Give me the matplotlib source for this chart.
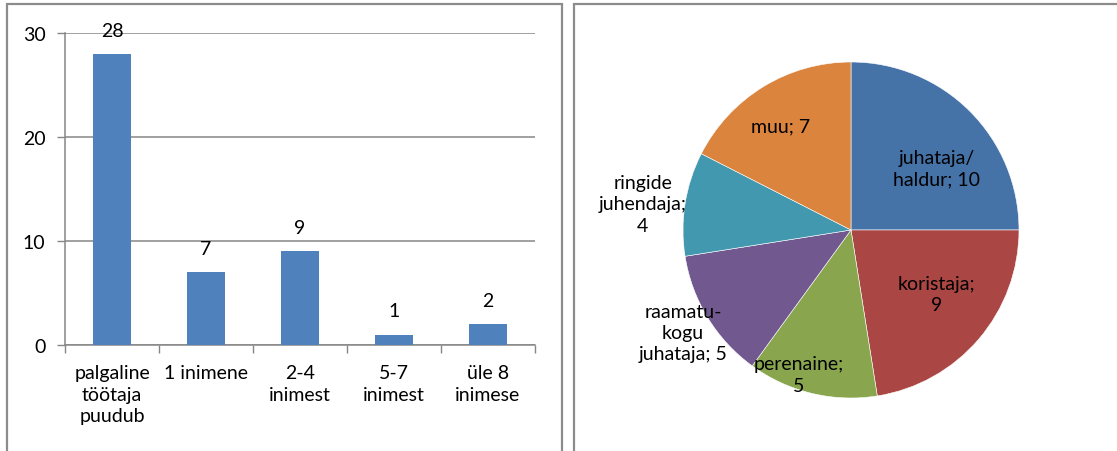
import matplotlib.pyplot as plt
from matplotlib.patches import Rectangle

plt.rcParams['font.family'] = ['Lato', 'DejaVu Sans']

# Tulpdiagramm: palgaliste töötajate arv
kategooriad = ['palgaline\ntöötaja\npuudub', '1 inimene', '2-4\ninimest', '5-7\ninimest', 'üle 8\ninimese']
vaartused = [28, 7, 9, 1, 2]
y_ticks = [0, 10, 20, 30]

# Sektordiagramm: ametid
ametid = ['juhataja/\nhaldur', 'koristaja;', 'perenaine;', 'raamatu-\nkogu\njuhataja;', 'ringide\njuhendaja;', 'muu;']
amet_arv = [10, 9, 5, 5, 4, 7]
amet_varvid = ['#4572A7', '#AA4643', '#89A54E', '#71588F', '#4198AF', '#DB843D']
# sildid: kuidas nimi ja arv kokku pannakse, ning asukoht (x, y) ringi raadiuse ühikutes
sildi_vorm = ['{}; {}', '{}\n{}', '{}\n{}', '{} {}', '{}\n{}', '{} {}']
sildi_koht = [(0.51, 0.37), (0.51, -0.38), (-0.31, -0.86), (-1.0, -0.61), (-1.24, 0.155), (-0.42, 0.62)]

FS = 14
W, H = 1117, 452
fig = plt.figure(figsize=(W / 100, H / 100), dpi=100)

# raamid
serv = '#8c8c8c'
fig.patches.append(Rectangle((7 / W, -0.1), (562 - 7) / W, 1.1 - 5 / H, transform=fig.transFigure,
                             fill=False, edgecolor=serv, linewidth=1.6))
fig.patches.append(Rectangle((574 / W, -0.1), 1.0, 1.1 - 5 / H, transform=fig.transFigure,
                             fill=False, edgecolor=serv, linewidth=1.6))

# tulbad
ax = fig.add_axes([65 / W, 1 - 346 / H, 470 / W, 312 / H])
x = range(len(vaartused))
ax.bar(x, vaartused, width=0.4, color='#4F81BD', zorder=3)
for xi, v in zip(x, vaartused):
    ax.annotate(str(v), (xi, v), xytext=(0, 17), textcoords='offset points',
                ha='center', va='center', fontsize=FS)
ax.set_xlim(-0.5, len(vaartused) - 0.5)
ax.set_ylim(0, 30)
ax.set_yticks(y_ticks)
ax.tick_params(axis='y', length=6, width=1, color='#868686', labelsize=FS, pad=8)
ax.grid(axis='y', color='#868686', linewidth=1.1, zorder=0)
ax.set_xticks([i - 0.5 for i in range(len(vaartused) + 1)], minor=False)
ax.set_xticklabels([])
ax.tick_params(axis='x', length=6, width=1, color='#868686')
ax.set_xticks(list(x), minor=True)
ax.set_xticklabels(kategooriad, minor=True, fontsize=FS, linespacing=1.3, va='top')
ax.tick_params(axis='x', which='minor', length=0, pad=14)
for s in ['top', 'right']:
    ax.spines[s].set_visible(False)
for s in ['left', 'bottom']:
    ax.spines[s].set_color('#868686')
    ax.spines[s].set_linewidth(1.1)

# sektorid
r = 168
ax2 = fig.add_axes([(851 - r) / W, 1 - (231 + r) / H, 2 * r / W, 2 * r / H])
ax2.pie(amet_arv, colors=amet_varvid, startangle=90, counterclock=False, radius=1,
        wedgeprops=dict(linewidth=0.4, edgecolor='white'))
ax2.set_xlim(-1, 1)
ax2.set_ylim(-1, 1)
for nimi, n, vorm, (lx, ly) in zip(ametid, amet_arv, sildi_vorm, sildi_koht):
    ax2.text(lx, ly, vorm.format(nimi.rstrip(';'), n) if vorm == '{}; {}' else vorm.format(nimi, n),
             ha='center', va='center', fontsize=FS, linespacing=1.3, clip_on=False)

fig.savefig('out.png', dpi=100)
